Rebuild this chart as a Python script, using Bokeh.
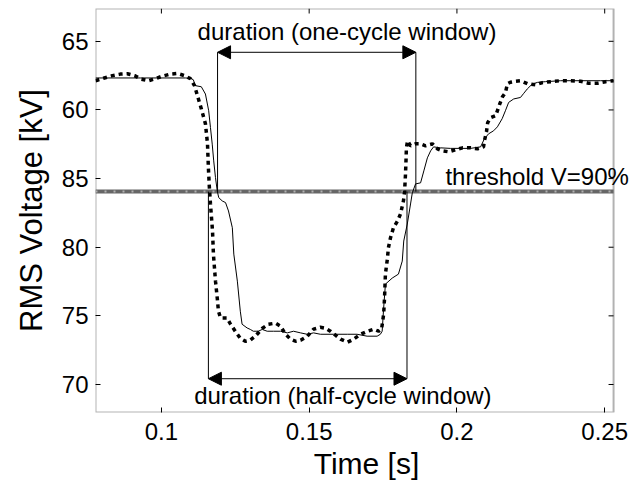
import math

from bokeh.plotting import figure
from bokeh.models import Range1d, FixedTicker, Label, Arrow, NormalHead, BoxAnnotation
from bokeh.embed import file_html
from bokeh.resources import INLINE

FONT = "Liberation Sans"

# RMS voltage computed with a half-cycle window (dotted trace)
time_half = [0.0777, 0.0804, 0.0834, 0.0861, 0.0885, 0.0909, 0.0932, 0.0956, 0.0980, 0.1003,
             0.1030, 0.1054, 0.1078, 0.1098, 0.1112, 0.1122, 0.1135, 0.1149, 0.1156, 0.1159,
             0.1162, 0.1166, 0.1173, 0.1176, 0.1183, 0.1189, 0.1193, 0.1200, 0.1222, 0.1234,
             0.1250, 0.1267, 0.1284, 0.1301, 0.1318, 0.1342, 0.1362, 0.1386, 0.1403, 0.1420,
             0.1437, 0.1454, 0.1471, 0.1494, 0.1515, 0.1538, 0.1555, 0.1572, 0.1589, 0.1606,
             0.1630, 0.1650, 0.1674, 0.1697, 0.1718, 0.1735, 0.1745, 0.1752, 0.1755, 0.1758,
             0.1765, 0.1768, 0.1775, 0.1785, 0.1799, 0.1809, 0.1819, 0.1823, 0.1826, 0.1828,
             0.1829, 0.1833, 0.1843, 0.1860, 0.1877, 0.1894, 0.1917, 0.1934, 0.1951, 0.1972,
             0.1995, 0.2019, 0.2046, 0.2070, 0.2090, 0.2093, 0.2100, 0.2104, 0.2114, 0.2131,
             0.2144, 0.2154, 0.2164, 0.2171, 0.2181, 0.2198, 0.2215, 0.2239, 0.2266, 0.2290,
             0.2317, 0.2351, 0.2385, 0.2418, 0.2445, 0.2476, 0.2503, 0.2530]
rms_half = [92.13, 92.31, 92.50, 92.61, 92.64, 92.50, 92.24, 92.13, 92.28, 92.46,
            92.61, 92.66, 92.50, 92.28, 91.77, 91.04, 90.09, 88.99, 87.53, 85.78,
            84.47, 83.15, 81.18, 79.50, 77.53, 76.29, 75.34, 74.85, 74.85, 74.39,
            73.88, 73.37, 73.15, 73.23, 73.52, 74.10, 74.39, 74.47, 74.25, 73.66,
            73.30, 73.15, 73.23, 73.52, 74.03, 74.17, 74.10, 73.88, 73.59, 73.30,
            73.08, 73.30, 73.66, 73.88, 74.03, 73.88, 74.03, 75.12, 76.29, 78.04,
            79.21, 79.94, 80.67, 81.40, 81.91, 82.42, 83.37, 84.10, 85.34, 86.51,
            87.24, 87.75, 87.39, 87.53, 87.53, 87.39, 87.53, 87.17, 87.02, 86.95,
            87.10, 87.24, 87.24, 87.17, 87.31, 87.75, 88.41, 89.07, 89.43, 89.58,
            90.38, 90.96, 91.26, 91.91, 92.02, 92.09, 92.13, 91.91, 91.84, 91.99,
            92.06, 92.13, 92.13, 92.09, 91.95, 91.95, 92.06, 92.13]

# RMS voltage computed with a one-cycle window (solid trace)
time_one = [0.0777, 0.0929, 0.1081, 0.1098, 0.1108, 0.1115, 0.1135, 0.1149, 0.1160, 0.1166,
            0.1172, 0.1177, 0.1183, 0.1189, 0.1194, 0.1206, 0.1217, 0.1227, 0.1240, 0.1245,
            0.1257, 0.1267, 0.1273, 0.1290, 0.1301, 0.1311, 0.1328, 0.1341, 0.1358, 0.1379,
            0.1403, 0.1426, 0.1447, 0.1471, 0.1493, 0.1515, 0.1538, 0.1582, 0.1629, 0.1662,
            0.1696, 0.1730, 0.1741, 0.1747, 0.1752, 0.1758, 0.1781, 0.1802, 0.1815, 0.1820,
            0.1832, 0.1843, 0.1849, 0.1860, 0.1877, 0.1888, 0.1900, 0.1911, 0.1921, 0.1944,
            0.1978, 0.2012, 0.2046, 0.2080, 0.2093, 0.2107, 0.2124, 0.2137, 0.2153, 0.2164,
            0.2175, 0.2192, 0.2215, 0.2225, 0.2238, 0.2255, 0.2273, 0.2300, 0.2351, 0.2418,
            0.2486, 0.2530]
rms_one = [92.33, 92.33, 92.33, 92.31, 92.20, 91.77, 91.69, 91.16, 89.94, 88.72,
           87.51, 86.29, 85.07, 84.10, 83.61, 83.37, 83.25, 82.64, 81.42, 79.50,
           77.53, 75.34, 74.39, 74.12, 74.01, 73.88, 73.88, 74.01, 73.88, 73.88,
           73.88, 73.76, 73.88, 73.76, 73.66, 73.76, 73.66, 73.66, 73.66, 73.66,
           73.52, 73.52, 73.66, 73.88, 75.56, 77.31, 77.75, 78.04, 78.99, 80.45,
           81.69, 83.15, 83.96, 84.61, 84.69, 85.56, 86.51, 87.02, 87.31, 87.24,
           87.20, 87.20, 87.20, 87.31, 87.90, 88.26, 88.48, 88.77, 89.36, 89.94,
           90.55, 90.80, 90.91, 91.18, 91.53, 91.89, 92.01, 92.06, 92.13, 92.13,
           92.13, 92.13]

x_ticks = [0.1, 0.15, 0.2, 0.25]
y_ticks = [70, 75, 80, 85, 90, 95]
y_tick_labels = ["70", "75", "80", "85", "60", "65"]

# axes box limits; the plotting area runs a little past the right edge of the box
# so that the threshold caption can overhang it
x_min, x_max = 0.0777, 0.2530
y_min, y_max = 67.96, 97.39
x_view_max = 0.2611

threshold = 84.05
one_cycle_bounds = [0.1190, 0.1861]
half_cycle_bounds = [0.1159, 0.1831]
one_cycle_arrow_level = 94.2
half_cycle_arrow_level = 70.42

p = figure(width=637, height=487, x_range=Range1d(x_min, x_view_max),
           y_range=Range1d(y_min, y_max),
           output_backend="svg", toolbar_location=None,
           min_border_left=95, min_border_right=0, min_border_top=8, min_border_bottom=75)
p.background_fill_color = "white"
p.border_fill_color = "white"
p.outline_line_color = None
p.xgrid.visible = False
p.ygrid.visible = False

for ax in (p.xaxis[0], p.yaxis[0]):
    ax.axis_line_color = None
    ax.major_tick_in = 5
    ax.major_tick_out = 0
    ax.major_tick_line_color = "black"
    ax.minor_tick_line_color = None
    ax.major_label_text_font = FONT
    ax.major_label_text_font_size = "24px"
    ax.major_label_text_color = "black"
    ax.axis_label_text_font = FONT
    ax.axis_label_text_font_style = "normal"
    ax.axis_label_text_color = "black"

p.xaxis[0].ticker = FixedTicker(ticks=x_ticks)
p.yaxis[0].ticker = FixedTicker(ticks=y_ticks)
p.yaxis[0].major_label_overrides = {t: s for t, s in zip(y_ticks, y_tick_labels)}
p.xaxis[0].axis_label = "Time [s]"
p.yaxis[0].axis_label = "RMS Voltage [kV]"
p.xaxis[0].axis_label_text_font_size = "30px"
p.yaxis[0].axis_label_text_font_size = "31px"
p.xaxis[0].major_label_standoff = 10
p.yaxis[0].major_label_standoff = 7
p.xaxis[0].axis_label_standoff = 4
p.yaxis[0].axis_label_standoff = 10

# axes box
p.add_layout(BoxAnnotation(left=x_min, right=x_max, bottom=y_min, top=y_max,
                           fill_alpha=0, line_color="black", line_width=2, level="underlay"))

# inward tick marks on the top and right edges of the box
p.ray(x=x_ticks, y=[y_max] * len(x_ticks), length=5, length_units="screen",
      angle=-math.pi / 2, line_color="black", line_width=1)
p.ray(x=[x_max] * len(y_ticks), y=y_ticks, length=5, length_units="screen",
      angle=math.pi, line_color="black", line_width=1)

# 90 % threshold
p.segment(x0=[x_min], y0=[threshold], x1=[x_max], y1=[threshold],
          line_color="#666666", line_width=4)
p.segment(x0=[x_min], y0=[threshold], x1=[x_max], y1=[threshold],
          line_color="#b0b0b0", line_width=2, line_dash="2 7")

# voltage traces
p.line(time_one, rms_one, line_color="black", line_width=1)
p.line(time_half, rms_half, line_color="black", line_width=3.5, line_dash="4 4", line_cap="butt")

# duration markers
p.segment(x0=one_cycle_bounds, y0=[threshold] * 2, x1=one_cycle_bounds,
          y1=[one_cycle_arrow_level] * 2, line_color="black", line_width=1)
p.segment(x0=half_cycle_bounds, y0=[threshold] * 2, x1=half_cycle_bounds,
          y1=[half_cycle_arrow_level] * 2, line_color="black", line_width=1)

for bounds, level in ((one_cycle_bounds, one_cycle_arrow_level),
                      (half_cycle_bounds, half_cycle_arrow_level)):
    p.add_layout(Arrow(x_start=bounds[0], x_end=bounds[1], y_start=level, y_end=level,
                       line_color="black", line_width=1,
                       start=NormalHead(size=13, fill_color="black", line_color="black"),
                       end=NormalHead(size=13, fill_color="black", line_color="black")))

p.add_layout(Label(x=0.1628, y=95.71, text="duration (one-cycle window)", text_align="center",
                   text_baseline="middle", text_font=FONT, text_font_size="24px",
                   text_color="black", level="overlay"))
p.add_layout(Label(x=0.1614, y=69.20, text="duration (half-cycle window)", text_align="center",
                   text_baseline="middle", text_font=FONT, text_font_size="24px",
                   text_color="black", level="overlay"))
p.add_layout(Label(x=0.1961, y=85.15, text="threshold V=90%", text_align="left",
                   text_baseline="middle", text_font=FONT, text_font_size="24px",
                   text_color="black", level="overlay"))

open("out.html", "w").write(file_html(p, INLINE))
